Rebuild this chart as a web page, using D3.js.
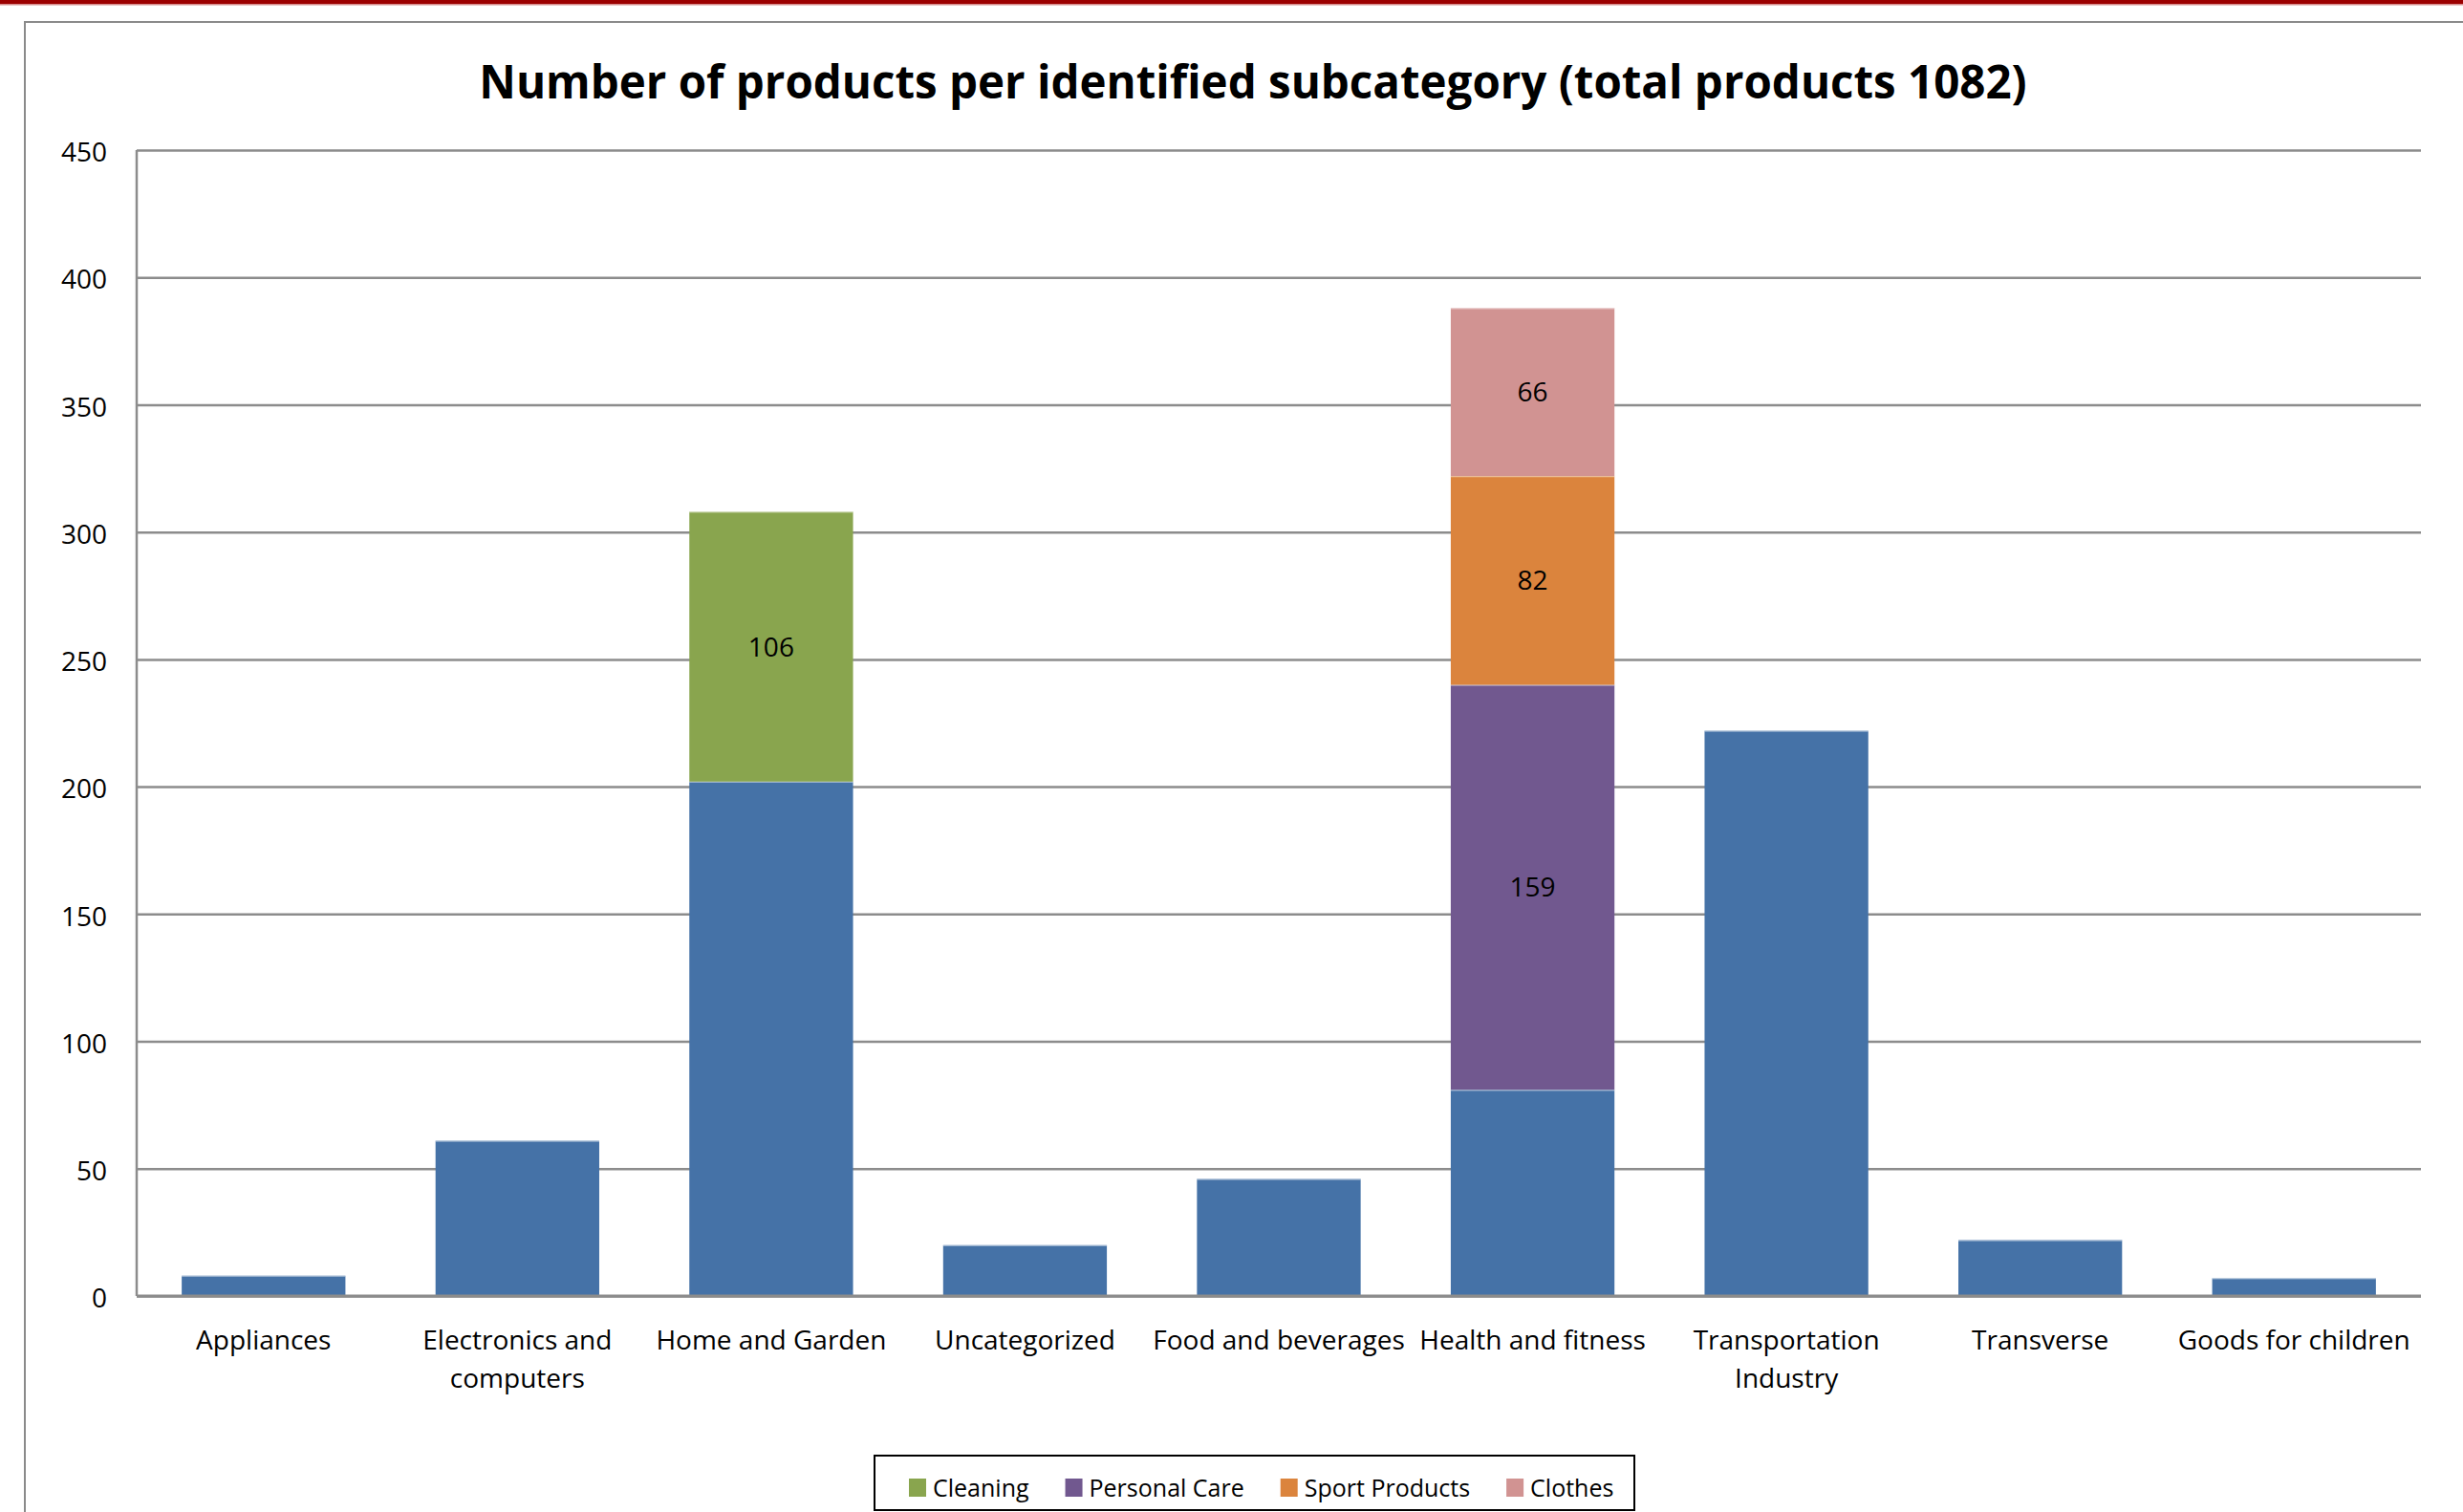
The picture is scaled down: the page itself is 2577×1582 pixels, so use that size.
<!DOCTYPE html>
<html>
<head>
<meta charset="utf-8">
<script src="https://cdn.jsdelivr.net/npm/d3@7"></script>
<style>
  body { margin: 0; background: #fff; }
  text { font-family: "Open Sans", "DejaVu Sans", sans-serif; fill: #000; }
</style>
</head>
<body>
<div id="chart"></div>
<script>
// Chart data
const categories = ["Appliances", "Electronics and\ncomputers", "Home and Garden", "Uncategorized",
  "Food and  beverages", "Health and fitness", "Transportation\nIndustry", "Transverse", "Goods for children"];
const mainCounts   = [8, 61, 202, 20, 46, 81, 222, 22, 7];
const cleaning     = [0, 0, 106, 0, 0, 0, 0, 0, 0];
const personalCare = [0, 0, 0, 0, 0, 159, 0, 0, 0];
const sportProducts= [0, 0, 0, 0, 0, 82, 0, 0, 0];
const clothes      = [0, 0, 0, 0, 0, 66, 0, 0, 0];
const yTicks = [0, 50, 100, 150, 200, 250, 300, 350, 400, 450];
const seriesNames = ["Main", "Cleaning", "Personal Care", "Sport Products", "Clothes"];
const legendNames = ["Cleaning", "Personal Care", "Sport Products", "Clothes"];
const titleText = "Number of products per identified subcategory (total products 1082)";

const width = 2577, height = 1582;
const margin = { left: 143, right: 44, top: 157, bottom: 226 };

const svg = d3.select("#chart").append("svg")
  .attr("width", width)
  .attr("height", height);

// Red rule at the top of the page
svg.append("rect").attr("x", 0).attr("y", 0).attr("width", width).attr("height", 4).attr("fill", "#9c0000");
svg.append("rect").attr("x", 0).attr("y", 4).attr("width", width).attr("height", 1.5).attr("fill", "#d58a8a");

// Chart frame (runs off the right and bottom edges)
svg.append("rect")
  .attr("x", 26).attr("y", 23)
  .attr("width", width).attr("height", height)
  .attr("fill", "none")
  .attr("stroke", "#8a8a8a")
  .attr("stroke-width", 2);

const x = d3.scaleBand()
  .domain(categories)
  .range([margin.left, width - margin.right])
  .paddingInner(0.355)
  .paddingOuter(0.1775);

const y = d3.scaleLinear()
  .domain([0, 450])
  .range([height - margin.bottom, margin.top]);

const color = d3.scaleOrdinal()
  .domain(seriesNames)
  .range(["#4572a7", "#89a54e", "#71588f", "#db843d", "#d19392"]);

// Title
const title = svg.append("text")
  .attr("x", 1311)
  .attr("y", 103)
  .attr("text-anchor", "middle")
  .style("font-weight", "bold")
  .style("font-size", "50px")
  .text(titleText);
const tLen = title.node().getComputedTextLength();
if (tLen > 1620) title.style("font-size", (50 * 1620 / tLen) + "px");

// Gridlines + y tick labels
const yAxis = svg.append("g")
  .attr("transform", `translate(${margin.left},0)`)
  .call(d3.axisLeft(y).tickValues(yTicks).tickSize(-(width - margin.left - margin.right)).tickPadding(31));
yAxis.select(".domain").remove();
yAxis.selectAll(".tick line").attr("stroke", "#8c8c8c").attr("stroke-width", 2.5);
yAxis.selectAll(".tick text")
  .style("font-size", "28px")
  .style("font-family", "'Open Sans', sans-serif")
  .attr("fill", "#000")
  .attr("dy", "0.42em");

// Left axis line
svg.append("line")
  .attr("x1", margin.left).attr("x2", margin.left)
  .attr("y1", y(450)).attr("y2", y(0))
  .attr("stroke", "#8c8c8c").attr("stroke-width", 2.5);

// Stacked bars
const rows = categories.map((c, i) => ({
  category: c,
  "Main": mainCounts[i],
  "Cleaning": cleaning[i],
  "Personal Care": personalCare[i],
  "Sport Products": sportProducts[i],
  "Clothes": clothes[i]
}));
const stacked = d3.stack().keys(seriesNames)(rows);

const layer = svg.append("g")
  .selectAll("g")
  .data(stacked)
  .join("g")
  .attr("fill", d => color(d.key));

layer.selectAll("rect")
  .data(d => d.filter(s => s[1] - s[0] > 0))
  .join("rect")
  .attr("x", d => x(d.data.category))
  .attr("y", d => y(d[1]))
  .attr("width", x.bandwidth())
  .attr("height", d => y(d[0]) - y(d[1]));

// light top edge on each segment
layer.selectAll("line")
  .data(d => d.filter(s => s[1] - s[0] > 0))
  .join("line")
  .attr("x1", d => x(d.data.category))
  .attr("x2", d => x(d.data.category) + x.bandwidth())
  .attr("y1", d => y(d[1]) + 0.5)
  .attr("y2", d => y(d[1]) + 0.5)
  .attr("stroke", "#ffffff")
  .attr("stroke-opacity", 0.45)
  .attr("stroke-width", 1.5);

// Data labels on sub-category segments
layer.filter(d => d.key !== "Main")
  .selectAll("text")
  .data(d => d.filter(s => s[1] - s[0] > 0))
  .join("text")
  .attr("x", d => x(d.data.category) + x.bandwidth() / 2)
  .attr("y", d => (y(d[0]) + y(d[1])) / 2)
  .attr("dy", "0.36em")
  .attr("text-anchor", "middle")
  .style("font-size", "28px")
  .attr("fill", "#000")
  .text(d => d[1] - d[0]);

// X axis line
svg.append("line")
  .attr("x1", margin.left).attr("x2", width - margin.right)
  .attr("y1", y(0)).attr("y2", y(0))
  .attr("stroke", "#8c8c8c").attr("stroke-width", 3);

// Category labels
const xLabels = svg.append("g")
  .selectAll("text")
  .data(categories)
  .join("text")
  .attr("text-anchor", "middle")
  .attr("transform", d => `translate(${x(d) + x.bandwidth() / 2},${y(0) + 56})`)
  .style("font-size", "28px");
xLabels.selectAll("tspan")
  .data(d => d.split("\n"))
  .join("tspan")
  .attr("x", 0)
  .attr("y", (d, i) => i * 40)
  .text(d => d);

// Legend
const legend = svg.append("g");
legend.append("rect")
  .attr("x", 915).attr("y", 1523)
  .attr("width", 795).attr("height", 57)
  .attr("fill", "#fff")
  .attr("stroke", "#000")
  .attr("stroke-width", 2);

let lx = 951;
legendNames.forEach(name => {
  legend.append("rect")
    .attr("x", lx).attr("y", 1547)
    .attr("width", 18).attr("height", 19)
    .attr("fill", color(name));
  const t = legend.append("text")
    .attr("x", lx + 25).attr("y", 1566)
    .style("font-size", "25px")
    .text(name);
  lx += 25 + t.node().getComputedTextLength() + 38;
});
</script>
</body>
</html>
